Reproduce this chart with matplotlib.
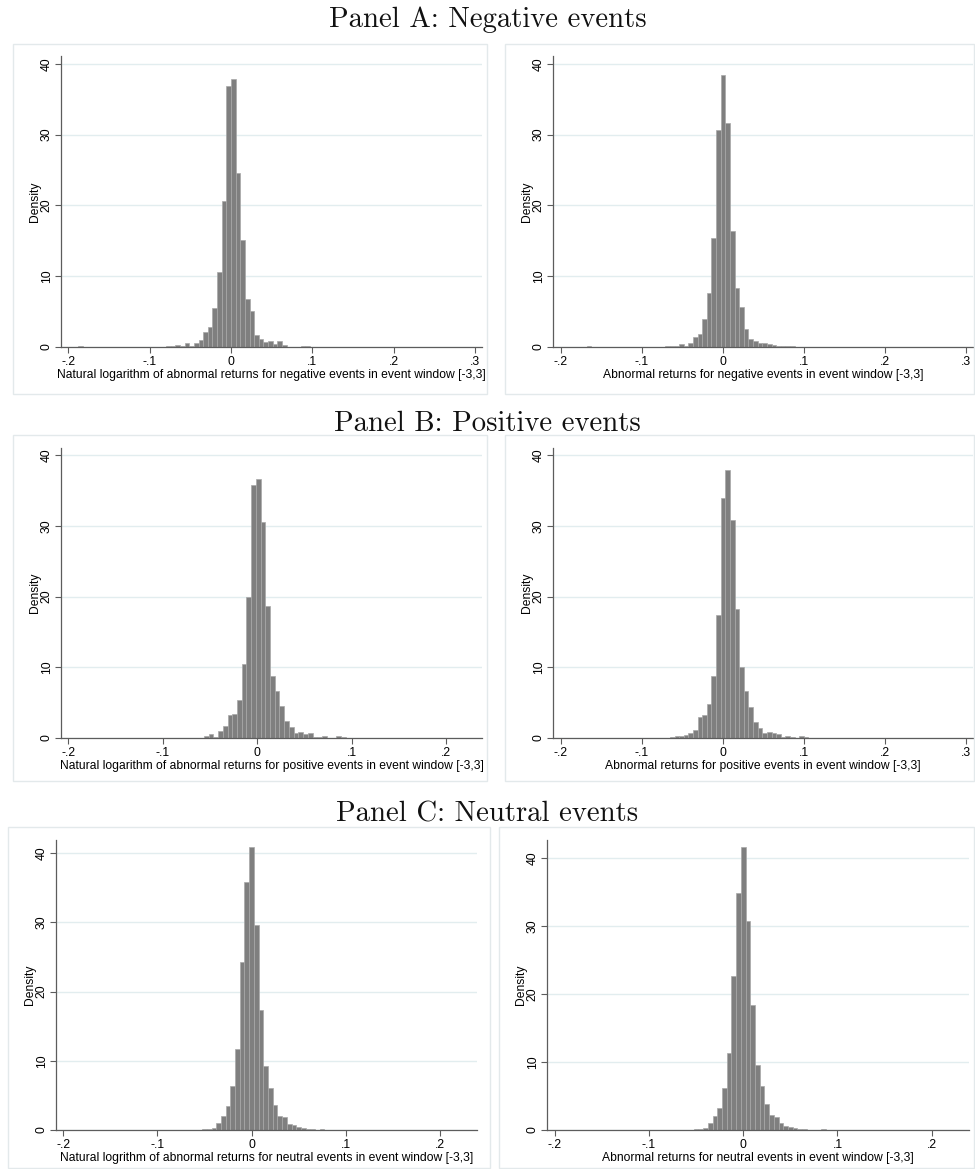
import numpy as np
import matplotlib.pyplot as plt
from matplotlib.patches import Rectangle

# ---- data: histogram densities ----
# each histogram: first bin edge, bin width, bar heights (left to right)

negA_log_edge = -0.2052
negA_log_width = 0.0057
negA_log = [0, 0, 0, 0.08, 0, 0, 0, 0, 0, 0, 0, 0, 0.03, 0, 0, 0.03, 0, 0.03, 0.05, 0.03, 0.05, 0.05, 0.08,
            0.12, 0.28, 0.2, 0.6, 0.2, 0.55, 0.95, 2.1, 2.8, 5.5, 10.6, 20.6, 36.9,
            37.9, 24.6, 15.1, 6.85, 5.1, 1.7, 1.2, 0.7, 0.8, 0.4, 0.85, 0.33,
            0.05, 0.03, 0.05, 0.12, 0.15, 0.05, 0.03, 0.05, 0.03, 0, 0.03, 0, 0, 0, 0, 0, 0, 0, 0, 0,
            0, 0, 0, 0.03, 0, 0, 0, 0, 0, 0, 0, 0.03, 0, 0, 0, 0, 0, 0, 0, 0, 0]

negA_raw_edge = -0.20805
negA_raw_width = 0.0057
negA_raw = [0, 0, 0, 0, 0, 0, 0.03, 0.08, 0, 0, 0, 0, 0, 0, 0, 0, 0, 0, 0, 0.03, 0, 0.03, 0.03, 0.05,
            0.1, 0.14, 0.14, 0.47, 0.14, 0.6, 1.4, 1.8, 3.9, 7.6, 15.4, 30.7,
            38.4, 31.7, 16.4, 8.3, 5.6, 2.55, 1.2, 0.85, 0.6, 0.5, 0.47, 0.28, 0.14, 0.1, 0.1, 0.1,
            0.05, 0.03, 0.05, 0.03, 0, 0.03, 0, 0, 0, 0, 0, 0, 0, 0, 0, 0, 0, 0, 0, 0,
            0, 0, 0, 0, 0, 0, 0, 0, 0, 0, 0, 0, 0, 0, 0, 0.03, 0]

posB_log_edge = -0.2015
posB_log_width = 0.005
posB_log = [0, 0, 0, 0, 0, 0.03, 0, 0, 0, 0, 0, 0.03, 0, 0, 0, 0.03, 0, 0, 0.03, 0, 0.03, 0, 0, 0.03, 0, 0, 0, 0,
            0.05, 0.24, 0.6, 0.14, 1.0, 1.7, 3.25, 3.45, 5.4, 10.4, 19.95, 35.75,
            36.65, 30.5, 18.7, 8.8, 6.6, 4.5, 2.36, 1.56, 0.75, 0.85, 0.6, 0.75, 0.14, 0.2, 0.33,
            0.05, 0.05, 0.25, 0.14, 0.05, 0.03, 0.03, 0.05, 0.03, 0.03, 0, 0, 0, 0, 0, 0,
            0, 0, 0, 0, 0, 0, 0, 0, 0, 0, 0.03, 0, 0, 0, 0, 0, 0, 0.05, 0]

posB_raw_edge = -0.20805
posB_raw_width = 0.0057
posB_raw = [0, 0, 0, 0, 0, 0, 0, 0, 0.03, 0, 0, 0, 0, 0.03, 0, 0, 0, 0.03, 0, 0, 0, 0, 0.03, 0, 0.05,
            0.1, 0.28, 0.24, 0.47, 0.66, 1.1, 3.0, 3.2, 4.8, 8.7, 17.4, 34.0,
            37.9, 30.8, 18.2, 10.1, 6.6, 4.4, 2.2, 1.46, 0.75, 0.8, 0.75, 0.6, 0.14, 0.24, 0.1, 0.05, 0.24, 0.2,
            0.05, 0.03, 0.05, 0.03, 0.03, 0, 0, 0, 0, 0, 0, 0, 0, 0, 0, 0, 0, 0,
            0, 0, 0, 0, 0, 0, 0, 0, 0.03, 0, 0, 0, 0, 0, 0.03, 0]

neuC_log_edge = -0.2075
neuC_log_width = 0.005
neuC_log = [0, 0, 0, 0, 0, 0, 0.03, 0, 0, 0, 0, 0, 0, 0, 0, 0, 0, 0, 0, 0, 0, 0.03, 0, 0, 0, 0, 0.03, 0.05, 0.03, 0.05, 0.05,
            0.1, 0.19, 0.29, 1.06, 2.0, 3.5, 6.3, 11.7, 24.3, 35.8,
            40.9, 29.6, 17.4, 9.2, 6.1, 3.6, 2.07, 1.93, 0.87, 0.72, 0.39, 0.24, 0.1,
            0.1, 0.05, 0.1, 0.05, 0.03, 0.05, 0, 0, 0, 0, 0, 0, 0, 0, 0, 0, 0, 0,
            0, 0, 0, 0, 0, 0, 0, 0, 0, 0, 0, 0, 0, 0, 0, 0]

neuC_raw_edge = -0.2075
neuC_raw_width = 0.005
neuC_raw = [0, 0, 0, 0, 0, 0, 0.03, 0, 0, 0, 0, 0, 0, 0, 0, 0, 0, 0, 0, 0, 0.03, 0, 0, 0, 0, 0.03, 0.05, 0.05, 0.03, 0.05, 0.05,
            0.1, 0.15, 0.24, 0.98, 2.0, 3.2, 6.1, 11.3, 22.6, 34.8,
            41.5, 30.7, 18.4, 9.5, 6.4, 3.8, 2.2, 1.86, 0.98, 0.59, 0.44, 0.24, 0.1,
            0.1, 0.05, 0.03, 0.05, 0.1, 0.03, 0, 0, 0, 0, 0, 0, 0, 0, 0, 0, 0, 0,
            0, 0, 0, 0, 0, 0, 0, 0, 0, 0, 0, 0, 0, 0, 0, 0]

x_ticks_3 = [-0.2, -0.1, 0, 0.1, 0.2, 0.3]
x_labels_3 = ['-.2', '-.1', '0', '.1', '.2', '.3']
x_ticks_2 = [-0.2, -0.1, 0, 0.1, 0.2]
x_labels_2 = ['-.2', '-.1', '0', '.1', '.2']
y_ticks = [0, 10, 20, 30, 40]
y_labels = ['0', '10', '20', '30', '40']

panel_titles = ['Panel A: Negative events', 'Panel B: Positive events', 'Panel C: Neutral events']
x_titles = [
    'Natural logarithm of abnormal returns for negative events in event window [-3,3]',
    'Abnormal returns for negative events in event window [-3,3]',
    'Natural logarithm of abnormal returns for positive events in event window [-3,3]',
    'Abnormal returns for positive events in event window [-3,3]',
    'Natural logrithm of abnormal returns for neutral events in event window [-3,3]',
    'Abnormal returns for neutral events in event window [-3,3]',
]

# ---- layout (pixels) ----
W, H = 975, 1169
plt.rcParams['font.family'] = ['Liberation Sans', 'DejaVu Sans']
fig = plt.figure(figsize=(W / 100, H / 100), dpi=100)

BAR = '#7f7f7f'
BAR_EDGE = '#a8a8a8'
AXC = '#5c5c5c'
GRID = '#e2edef'
FS = 8.7


def frame(l, t, r, b):
    fig.add_artist(Rectangle((l / W, 1 - b / H), (r - l) / W, (b - t) / H,
                             transform=fig.transFigure, fill=False, ec='#e3e9eb', lw=1.0))


def hist_panel(box, xlim, ylim_top, edge, width, heights, ticks, labels, xtitle):
    l, t, r, b = box
    ax = fig.add_axes([l / W, 1 - b / H, (r - l) / W, (b - t) / H])
    edges = edge + width * np.arange(len(heights) + 1)
    ax.bar(edges[:-1], heights, width=width, align='edge', color=BAR,
           edgecolor=BAR_EDGE, linewidth=0.5, zorder=2)
    ax.set_xlim(*xlim)
    ax.set_ylim(0, ylim_top)
    for s in ['top', 'right']:
        ax.spines[s].set_visible(False)
    for s in ['left', 'bottom']:
        ax.spines[s].set_color(AXC)
        ax.spines[s].set_linewidth(0.9)
        ax.spines[s].set_zorder(3)
    ax.set_xticks(ticks, labels)
    ax.set_yticks(y_ticks, y_labels)
    ax.tick_params(direction='out', length=4, width=0.8, color=AXC, labelsize=FS)
    ax.tick_params(axis='x', pad=2.5)
    ax.tick_params(axis='y', pad=2)
    for lab in ax.get_yticklabels():
        lab.set_rotation(90)
        lab.set_va('center')
    ax.yaxis.grid(True, color=GRID, lw=1.0, zorder=0)
    ax.set_axisbelow(True)
    ax.set_ylabel('Density', fontsize=FS, labelpad=0)
    ax.set_xlabel(xtitle, fontsize=FS, labelpad=0.5)
    return ax


# frames around each graph
frame(13, 44, 487, 394)
frame(505, 44, 974, 394)
frame(13, 435, 487, 781)
frame(505, 435, 974, 781)
frame(8, 827, 490, 1168)
frame(499, 827, 974, 1168)

hist_panel((61, 56, 482, 347), (-0.209, 0.3086), 41.1, negA_log_edge, negA_log_width, negA_log,
           x_ticks_3, x_labels_3, x_titles[0])
hist_panel((553, 56, 973, 347), (-0.2099, 0.3086), 41.1, negA_raw_edge, negA_raw_width, negA_raw,
           x_ticks_3, x_labels_3, x_titles[1])
hist_panel((61, 448, 482, 738), (-0.2077, 0.2378), 41.0, posB_log_edge, posB_log_width, posB_log,
           x_ticks_2, x_labels_2, x_titles[2])
hist_panel((553, 448, 973, 738), (-0.2099, 0.3086), 41.0, posB_raw_edge, posB_raw_width, posB_raw,
           x_ticks_3, x_labels_3, x_titles[3])
hist_panel((56, 840, 477, 1130), (-0.2078, 0.2396), 41.9, neuC_log_edge, neuC_log_width, neuC_log,
           x_ticks_2, x_labels_2, x_titles[4])
hist_panel((547, 840, 969, 1130), (-0.2082, 0.2396), 42.6, neuC_raw_edge, neuC_raw_width, neuC_raw,
           x_ticks_2, x_labels_2, x_titles[5])

for title, y in zip(panel_titles, [20, 424, 814]):
    fig.text(487.5 / W, 1 - y / H, title, fontfamily='cmr10', fontsize=20.7,
             ha='center', va='center', color='#111111')

fig.savefig('out.png', dpi=100)
